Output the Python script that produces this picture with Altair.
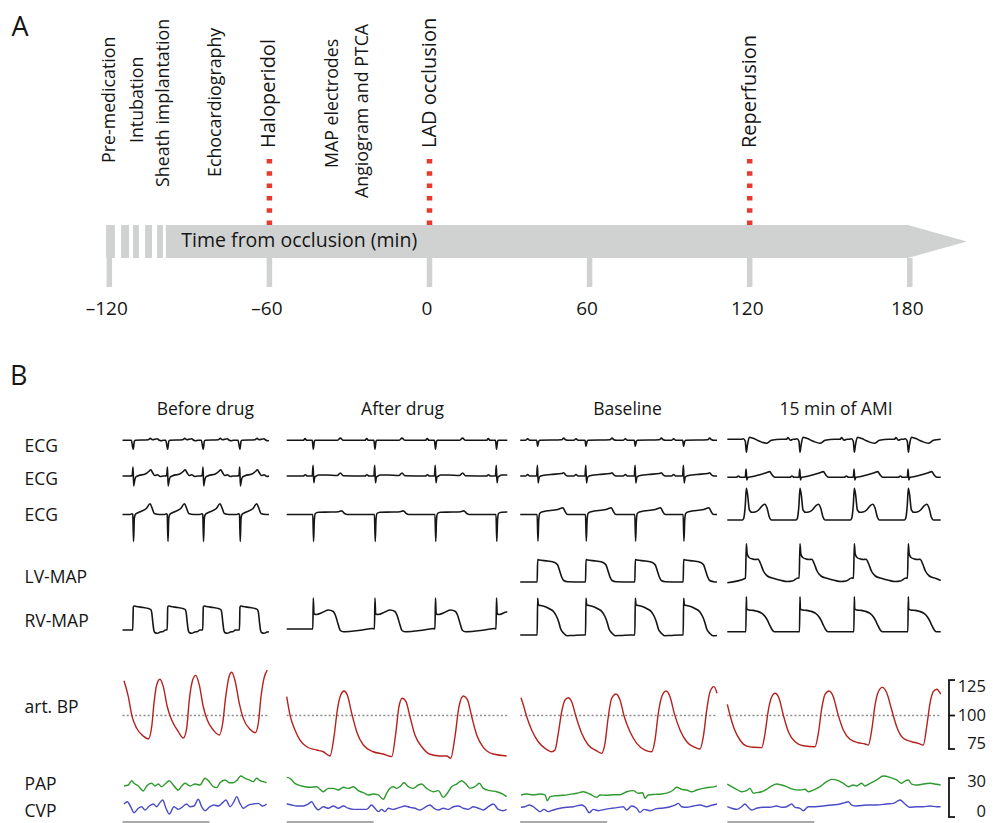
import altair as alt
import pandas as pd

# ----------------------------------------------------------------------------
# Panel A: experimental protocol, minutes relative to LAD occlusion
# ----------------------------------------------------------------------------
TICKS_MIN = [-120, -60, 0, 60, 120, 180]
EVENTS = ["Pre-medication", "Intubation", "Sheath implantation", "Echocardiography",
          "Haloperidol", "MAP electrodes", "Angiogram and PTCA", "LAD occlusion", "Reperfusion"]
EVENT_MIN = [-119.7, -109.2, -99.5, -80.2, -60, -36.2, -24.9, 0, 120]
EVENT_KEY = [0, 0, 0, 0, 1, 0, 0, 1, 1]
MARKER_MIN = [-60, 0, 120]
STRIPE_FROM = [-121.2, -115.6, -111.1, -106.6, -102.1]
STRIPE_TO = [-117.9, -112.6, -108.9, -104.0, -99.9]
AXIS_FROM, AXIS_TO, AXIS_TIP = -98.8, 179.3, 201.4

# ----------------------------------------------------------------------------
# Panel B: recordings (time in ms from start of each recording)
# ----------------------------------------------------------------------------
PANELS = ["Before drug", "After drug", "Baseline", "15 min of AMI"]
DUR_MS = {"Before drug": 1684, "After drug": 2537, "Baseline": 2263, "15 min of AMI": 2454}
QRS_MS = {
    "Before drug": [124, 520, 929, 1351],
    "After drug": [306, 1015, 1711, 2413],
    "Baseline": [201, 757, 1324, 1880],
    "15 min of AMI": [219, 836, 1461, 2082],
}
ROWS = ["ECG1", "ECG2", "ECG3", "LV-MAP", "RV-MAP"]

# beat shapes: time after QRS (ms), amplitude (a.u.)
TPL_DT = {
    ("Before drug", "ECG1"): [-23, 0, 12, 23, 173, 196, 219, 276, 299, 322, 345],
    ("Before drug", "ECG2"): [-35, -12, -3, 5, 15, 29, 58, 138, 178, 201, 224, 247, 276, 311, 345],
    ("Before drug", "ECG3"): [-35, -17, -6, 3, 12, 23, 58, 150, 192, 218, 241, 299],
    ("Before drug", "RV-MAP"): [-6, 0, 12, 35, 115, 173, 201, 213, 224, 236, 247, 276, 311, 345, 368],
    ("After drug", "ECG1"): [-115, -95, -75, -12, 0, 12, 23, 276, 311, 345],
    ("After drug", "ECG2"): [-115, -92, -69, -12, -3, 6, 17, 35, 58, 150, 276, 311, 345],
    ("After drug", "ECG3"): [-35, -6, 3, 12, 23, 58, 200, 290, 326, 360, 390],
    ("After drug", "RV-MAP"): [-6, 0, 8, 35, 115, 173, 230, 253, 288, 311, 345, 518, 633, 680],
    ("Baseline", "ECG1"): [-140, -115, -92, -12, 0, 12, 23, 276, 299, 322, 345],
    ("Baseline", "ECG2"): [-140, -115, -92, -12, -3, 6, 17, 35, 150, 276, 299, 322, 345],
    ("Baseline", "ECG3"): [-35, -6, 3, 12, 23, 58, 230, 291, 315, 337, 368],
    ("Baseline", "LV-MAP"): [-6, 0, 17, 115, 196, 230, 253, 276, 299, 345, 518],
    ("Baseline", "RV-MAP"): [-6, 0, 8, 35, 88, 140, 184, 215, 241, 265, 299, 337, 400, 518],
    ("15 min of AMI", "ECG1"): [-58, -35, -12, 0, 12, 35, 77, 153, 230, 288, 400, 460, 479, 506, 540],
    ("15 min of AMI", "ECG2"): [-115, -92, -69, -12, -3, 6, 17, 58, 150, 230, 268, 300, 330, 440],
    ("15 min of AMI", "ECG3"): [-46, -31, -12, 0, 15, 35, 65, 100, 141, 180, 211, 238, 264, 288],
    ("15 min of AMI", "LV-MAP"): [-10, 0, 10, 31, 69, 107, 135, 165, 196, 241, 318, 394, 472, 529, 594],
    ("15 min of AMI", "RV-MAP"): [-6, 0, 4, 27, 80, 123, 180, 218, 245, 268, 296, 322],
}
TPL_V = {
    ("Before drug", "ECG1"): [0, -9, -1, 0, 0.5, 2, 0.5, 1.5, 0, -0.5, 0],
    ("Before drug", "ECG2"): [0, 0.5, 9, -10, -5, -1, 0.3, 2, 4.5, 6.3, 3, 0.5, 1.2, -0.5, 0],
    ("Before drug", "ECG3"): [0, 0.7, 0, -27, -4, 0, 2, 6, 10.7, 6, 1, 0],
    ("Before drug", "RV-MAP"): [0, 23, 24, 23.5, 22.5, 21.5, 20.5, 17, 8, 0, -2.5, -3.3, -2, -1.5, 0],
    ("After drug", "ECG1"): [0, 1.7, 0, 0, -9, -1, 0, 0, 2.2, 0],
    ("After drug", "ECG2"): [0, 1.3, 0, 0, 10.7, -6.7, -1, 0, 1, 1, 0.5, 3, 0.3],
    ("After drug", "ECG3"): [0, 0, -27, -5, 1, 2.3, 2.5, 2.8, 3.6, 1, 0],
    ("After drug", "RV-MAP"): [0, 31, 15, 14.5, 17, 19, 17.5, 14, 4, -1.5, -2.7, -1.5, 0, 0.5],
    ("Baseline", "ECG1"): [0, 1.5, 0, 0, -6, -1, 0, 0.5, 2.2, 0.5, 0],
    ("Baseline", "ECG2"): [0, 1.5, 0, 0, 10.7, -7, -1.5, 0, 1.5, 2.5, 3.2, 1, 0],
    ("Baseline", "ECG3"): [0, 0, -26.7, -6, 1, 2.7, 5, 6.7, 3, 0.3, 0],
    ("Baseline", "LV-MAP"): [0, 22.5, 22, 21, 19.5, 17, 11, 5, 1.5, 0.3, 0],
    ("Baseline", "RV-MAP"): [0, 36.7, 30, 29.5, 28.3, 26, 23.3, 19, 13.3, 6, 1.7, -0.7, -0.5, 0],
    ("15 min of AMI", "ECG1"): [0, 0.5, -2, -13, -6, 2, 1, -2, -4, -1, 0, 0, 1.7, -1, 0],
    ("15 min of AMI", "ECG2"): [0, 1.3, 0, 0, 8.3, -2.7, 0, 0.5, 2.5, 4.5, 5.7, 2, 0, 0],
    ("15 min of AMI", "ECG3"): [0, 1.5, 15, 31.7, 25, 10, 7.7, 8, 10, 14, 15.7, 12, 3, 0],
    ("15 min of AMI", "LV-MAP"): [3.8, 38.3, 28, 24.5, 23, 22.5, 22.7, 18, 11, 6, 3.5, 1.7, 0.5, 1, 4],
    ("15 min of AMI", "RV-MAP"): [0, 35, 23, 21.7, 21.3, 20.5, 18.3, 15, 11, 6.7, 2, 0],
}
# values at the first and last sample of a recording (default 0)
EDGE_V = {
    ("Before drug", "RV-MAP"): (0, -1.7),
    ("After drug", "ECG2"): (0, 1),
    ("After drug", "ECG3"): (0, 2.5),
    ("After drug", "RV-MAP"): (0, 17),
    ("Baseline", "RV-MAP"): (0, -0.5),
    ("15 min of AMI", "LV-MAP"): (-0.7, 1.5),
}
# baseline level of a recording relative to its row
LEVEL = {
    ("Before drug", "RV-MAP"): 1, ("After drug", "RV-MAP"): 2,
    ("Baseline", "RV-MAP"): -4, ("15 min of AMI", "RV-MAP"): -0.7,
    ("15 min of AMI", "ECG1"): 1, ("15 min of AMI", "ECG2"): -1.3,
    ("15 min of AMI", "ECG3"): -5.5,
}

# arterial blood pressure (mmHg)
BP_T = {
    "Before drug": [17, 67, 106, 163, 239, 297, 336, 362, 393, 431, 469, 515, 566, 642, 699, 738, 768, 807, 842, 883,
                    929, 975, 1044, 1113, 1152, 1187, 1225, 1256, 1294, 1343, 1389, 1466, 1527, 1562, 1593, 1627, 1665],
    "After drug": [0, 38, 95, 153, 230, 345, 421, 498, 544, 582, 621, 659, 697, 748, 805, 881, 996, 1111, 1208, 1254,
                   1291, 1329, 1372, 1418, 1475, 1553, 1648, 1763, 1840, 1886, 1935, 1981, 2031, 2077, 2128, 2185,
                   2261, 2376, 2530],
    "Baseline": [9, 36, 75, 132, 208, 285, 362, 400, 438, 477, 515, 553, 592, 642, 707, 783, 880, 937, 975, 1013,
                 1052, 1102, 1148, 1197, 1263, 1340, 1435, 1512, 1550, 1588, 1627, 1677, 1723, 1772, 1838, 1915,
                 1991, 2068, 2106, 2145, 2183, 2229, 2263],
    "15 min of AMI": [0, 31, 77, 146, 223, 319, 396, 434, 472, 511, 549, 595, 644, 702, 779, 874, 1009, 1047, 1086,
                      1124, 1170, 1219, 1270, 1334, 1411, 1507, 1584, 1622, 1661, 1699, 1737, 1783, 1833, 1891, 1948,
                      2024, 2121, 2197, 2254, 2293, 2331, 2369, 2408, 2454],
}
BP_V = {
    "Before drug": [130.5, 116.5, 100.4, 88.8, 82, 79.4, 90.2, 110.7, 126.8, 131.8, 125.3, 107.7, 96, 85.8, 80.3,
                    88.8, 113.6, 131.1, 135.2, 126.8, 107.7, 96, 87.3, 82.9, 93.2, 116.5, 134, 137.9, 130.5, 110.7,
                    97.5, 87.9, 84.9, 93.2, 116.5, 132.6, 139.9],
    "After drug": [116.5, 100.4, 87.3, 78.5, 72.6, 69.7, 68.2, 64.5, 81.4, 104.8, 118, 121.5, 118, 101.9, 85.8, 74.1,
                   68.2, 66.2, 63.9, 84.4, 107.7, 115.1, 112.1, 98.9, 82.9, 72.6, 66, 64.5, 64.5, 62.5, 81.4, 107.7,
                   117.1, 114.2, 98.9, 82.9, 72.1, 66.2, 64.5],
    "Baseline": [115.6, 109.2, 98.9, 87.3, 77, 71.2, 68.2, 69.7, 84.4, 103.3, 113.6, 115.6, 112.1, 98.9, 84.4, 74.1,
                 68.9, 66.8, 75.6, 98.9, 115.1, 118.9, 113.6, 98.9, 85.8, 75.6, 69.7, 68.2, 78.5, 101.9, 116.5, 121.5,
                 116.5, 101.9, 87.3, 77, 72.6, 70.6, 81.4, 104.8, 120.9, 125.3, 119.5],
    "15 min of AMI": [109.8, 100.4, 88.8, 78.5, 73.2, 72.1, 71.8, 84.4, 104.8, 116.5, 119.5, 115.1, 100.4, 85.8, 77,
                      73.5, 72.6, 84.4, 106.3, 118.6, 121.5, 116.5, 101.9, 87.3, 79.1, 76.1, 75, 74.1, 87.3, 109.2,
                      120.9, 124.7, 120, 104.8, 90.2, 80, 77, 75.6, 74.1, 90.2, 110.7, 120.9, 123, 118.6],
}
# pulmonary artery pressure (mmHg)
PAP_T = {
    "Before drug": [17, 67, 106, 132, 182, 239, 278, 336, 374, 412, 451, 489, 538, 584, 642, 681, 719, 776, 834, 891,
                    949, 998, 1044, 1083, 1121, 1179, 1228, 1274, 1320, 1359, 1409, 1458, 1504, 1543, 1581, 1619, 1658],
    "After drug": [0, 38, 95, 172, 268, 345, 421, 479, 536, 594, 651, 709, 766, 824, 881, 939, 996, 1054, 1111, 1149,
                   1188, 1226, 1264, 1303, 1349, 1399, 1456, 1514, 1552, 1609, 1686, 1744, 1801, 1847, 1897, 1955,
                   2012, 2062, 2108, 2165, 2215, 2261, 2338, 2415, 2491, 2529],
    "Baseline": [9, 74, 151, 228, 285, 312, 343, 419, 496, 573, 649, 726, 802, 879, 918, 994, 1071, 1148, 1224, 1301,
                 1358, 1408, 1435, 1473, 1550, 1627, 1703, 1761, 1799, 1857, 1914, 1972, 2029, 2106, 2183, 2240, 2263],
    "15 min of AMI": [0, 50, 107, 165, 222, 261, 299, 337, 395, 452, 510, 567, 625, 682, 759, 836, 893, 931, 989,
                      1066, 1142, 1200, 1277, 1334, 1392, 1449, 1487, 1545, 1583, 1641, 1717, 1794, 1871, 1947, 2005,
                      2043, 2081, 2120, 2177, 2254, 2331, 2407, 2453],
}
PAP_V = {
    "Before drug": [26.7, 27.5, 31.1, 28.9, 26.7, 22.5, 26.7, 28.9, 26.7, 28.3, 26.1, 28.3, 31.1, 27.5, 23.3, 26.7,
                    28.9, 26.7, 28.3, 27.5, 33.1, 30.3, 26.1, 25.3, 29.4, 31.7, 29.4, 29.4, 31.7, 35, 33.1, 31.7,
                    30.3, 33.1, 31.1, 30.3, 29.4],
    "After drug": [33.9, 33.1, 28.9, 26.7, 25.6, 26.1, 21.9, 24.7, 24.7, 23.3, 25.6, 24.7, 26.1, 22.8, 21.1, 19.2,
                   20, 19.2, 15.6, 20.6, 24.7, 26.1, 24.7, 26.1, 29.4, 26.1, 24.7, 27.5, 28.3, 24.7, 21.9, 22.8,
                   17.2, 20.6, 26.1, 28.3, 31.1, 28.3, 24.7, 26.1, 28.9, 24.7, 22.8, 21.9, 19.7, 17.8],
    "Baseline": [19.2, 20, 19.2, 20, 19.2, 14.4, 17.8, 18.6, 18.9, 19.7, 20.6, 21.9, 20, 17.2, 19.2, 18.9, 19.4, 19.4,
                 21.9, 22.8, 20.6, 21.1, 16.4, 19.2, 19.7, 20, 21.1, 23.3, 25.6, 23.9, 23.3, 21.9, 23.3, 24.7, 25.6,
                 26.1, 26.7],
    "15 min of AMI": [28.3, 26.1, 23.9, 21.9, 22.8, 24.7, 20.6, 21.1, 21.9, 23.9, 26.7, 28.3, 27.5, 26.1, 23.9, 23.3,
                      23.9, 21.9, 23.3, 26.1, 30.3, 32.2, 31.1, 28.9, 26.1, 27.5, 26.7, 28.9, 26.7, 28.9, 31.7, 35,
                      33.9, 31.7, 28.9, 30.8, 31.7, 28.3, 27.5, 28.3, 28.9, 28.1, 27.5],
}
# central venous pressure (mmHg)
CVP_T = {
    "Before drug": [17, 56, 94, 132, 182, 220, 259, 308, 355, 393, 431, 462, 500, 539, 592, 642, 692, 738, 776, 822,
                    872, 910, 949, 1006, 1052, 1102, 1152, 1190, 1236, 1282, 1313, 1351, 1390, 1447, 1504, 1562, 1612,
                    1658],
    "After drug": [0, 57, 115, 191, 249, 287, 325, 364, 421, 479, 536, 594, 651, 709, 766, 843, 919, 977, 1015, 1054,
                   1092, 1130, 1169, 1226, 1303, 1360, 1418, 1475, 1533, 1590, 1648, 1694, 1744, 1801, 1859, 1916,
                   1974, 2031, 2089, 2146, 2204, 2261, 2319, 2376, 2434, 2491, 2529],
    "Baseline": [9, 55, 105, 151, 189, 228, 274, 323, 381, 458, 534, 611, 707, 745, 795, 841, 899, 975, 1052, 1128,
                 1186, 1224, 1282, 1339, 1378, 1424, 1493, 1569, 1646, 1723, 1780, 1818, 1857, 1914, 1991, 2068, 2144,
                 2202, 2263],
    "15 min of AMI": [0, 50, 107, 165, 203, 241, 280, 337, 414, 491, 567, 625, 682, 740, 778, 836, 874, 931, 1008,
                      1104, 1200, 1296, 1353, 1392, 1430, 1487, 1602, 1717, 1832, 1909, 1986, 2043, 2100, 2177, 2254,
                      2331, 2407, 2453],
}
CVP_V = {
    "Before drug": [11.7, 13.6, 9.4, 4.4, 8.1, 9.4, 6.7, 10, 11.7, 9.4, 12.8, 15, 8.1, 3.3, 9.4, 7.2, 9.4, 11.7, 9.4,
                    10, 15.6, 9.4, 6.1, 9.4, 10.8, 10, 12.8, 15, 9.4, 13.6, 17.8, 12.2, 8.1, 10.8, 11.7, 12.2, 10,
                    11.7],
    "After drug": [11.7, 10.8, 10, 10, 11.7, 13.6, 9.4, 6.7, 9.4, 8.1, 10, 8.1, 10, 8.1, 7.2, 7.2, 7.2, 10.8, 8.1, 5.3,
                   7.2, 5.3, 8.1, 7.2, 8.9, 10, 8.9, 8.1, 6.7, 8.9, 10.8, 8.1, 6.7, 8.1, 7.2, 9.4, 10, 8.1, 7.2, 9.4,
                   8.1, 6.7, 9.4, 11.7, 7.2, 6.1, 7.2],
    "Baseline": [8.9, 9.4, 10.8, 9.4, 7.2, 5.3, 7.2, 5.3, 6.7, 8.1, 8.9, 9.4, 10.8, 9.4, 4.4, 7.2, 6.1, 7.2, 8.1, 8.9,
                 9.4, 6.7, 10, 8.1, 4.7, 7.2, 6.1, 7.8, 8.3, 9.4, 10.8, 12.2, 9.4, 8.9, 10, 10.8, 9.4, 10.6, 11.7],
    "15 min of AMI": [9.4, 8.1, 7.2, 9.4, 11.7, 8.9, 6.7, 8.1, 8.9, 8.9, 10, 8.9, 9.4, 11.7, 8.9, 8.1, 6.1, 9.4, 9.4,
                      10, 10.8, 11.7, 12.8, 13.6, 10.8, 10, 10.8, 10.8, 11.7, 12.2, 15, 11.7, 8.9, 9.4, 9.4, 10, 9.4,
                      9.4],
}
BP_TICKS = [125, 100, 75]
P_TICKS = [30, 0]
SCALEBAR_MS = 1000

# ----------------------------------------------------------------------------
# Layout (pixels inside the chart, origin top-left) and styles
# ----------------------------------------------------------------------------
W, H = 979, 815
FONT = "Open Sans"
INK = "#151515"
GRAY = "#d0d2d2"
RED = "#e63b2e"
PX_PER_MIN, MIN0_PX = 2.6683, 421.5
MS_PER_PX = 11.5
PANEL_LEFT_PX = {"Before drug": 114.5, "After drug": 278.7, "Baseline": 512.2, "15 min of AMI": 719.3}
TITLE_X_PX = {"Before drug": 197.3, "After drug": 394.5, "Baseline": 619.5, "15 min of AMI": 828.0}
ROW_BASE_PX = {"ECG1": 432.3, "ECG2": 468.0, "ECG3": 506.5, "LV-MAP": 574.0, "RV-MAP": 623.0}
BP100_PX, BP_GAIN = 707.5, 1.14
P0_PX, P_GAIN = 810.0, 1.2


def lin(domain, reverse=False):
    return alt.Scale(domain=domain, nice=False, zero=False, reverse=reverse)


x_min = lin([-MIN0_PX / PX_PER_MIN, (W - MIN0_PX) / PX_PER_MIN])
x_ms = lin([0, W * MS_PER_PX])
x_px = lin([0, W])
y_px = lin([0, H], reverse=True)


def y_unit(base_px, gain, ref=0.0):
    return lin([ref - (H - base_px) / gain, ref + base_px / gain])


y_bp = y_unit(BP100_PX, BP_GAIN, 100)
y_p = y_unit(P0_PX, P_GAIN, 0)
offset_ms = {p: PANEL_LEFT_PX[p] * MS_PER_PX for p in PANELS}

layers = []

# ---------------- Panel A ----------------
tX = lambda f: alt.X(f, scale=x_min, axis=None)

layers.append(alt.Chart(pd.DataFrame({"a": STRIPE_FROM, "b": STRIPE_TO})).mark_rect(color=GRAY).encode(
    x=tX("a:Q"), x2="b:Q", y=alt.value(217), y2=alt.value(250)))

arrow = pd.DataFrame({"t": [AXIS_FROM, AXIS_TO, AXIS_TIP], "top": [217, 217, 233.5], "bot": [250, 250, 233.5]})
layers.append(alt.Chart(arrow).mark_area(color=GRAY, opacity=1).encode(
    x=tX("t:Q"), y=alt.Y("top:Q", scale=y_px, axis=None), y2="bot:Q"))

ticks = pd.DataFrame({"t": TICKS_MIN,
                      "lab": [("\u2013%d\u2002" % abs(v)) if v < 0 else str(v) for v in TICKS_MIN]})
layers.append(alt.Chart(ticks).mark_rule(color=GRAY, strokeWidth=5.5).encode(
    x=tX("t:Q"), y=alt.value(250), y2=alt.value(279)))
layers.append(alt.Chart(ticks).mark_text(font=FONT, fontSize=19, baseline="alphabetic", color=INK, dx=-2.5).encode(
    x=tX("t:Q"), y=alt.value(307), text="lab:N"))

layers.append(alt.Chart(pd.DataFrame({"t": MARKER_MIN})).mark_rule(
    color=RED, strokeWidth=5.5, strokeDash=[4.5, 7.8]).encode(x=tX("t:Q"), y=alt.value(151), y2=alt.value(217)))

ev = pd.DataFrame({"name": EVENTS, "t": EVENT_MIN, "key": EVENT_KEY,
                   "bottom": [155, 135, 179, 169, 140, 160, 190, 140, 140]})
for key, fs in [(0, 17.8), (1, 20)]:
    layers.append(alt.Chart(ev[ev.key == key]).mark_text(
        font=FONT, fontSize=fs, angle=270, align="left", baseline="middle", color=INK).encode(
        x=tX("t:Q"), y=alt.Y("bottom:Q", scale=y_px, axis=None), text="name:N"))

layers.append(alt.Chart(pd.DataFrame({"t": [-93.0], "s": ["Time from occlusion (min)"]})).mark_text(
    font=FONT, fontSize=19.5, align="left", baseline="alphabetic", color=INK).encode(
    x=tX("t:Q"), y=alt.value(238.5), text="s:N"))

# ---------------- layout texts ----------------
left_txt = pd.DataFrame({
    "s": ["A", "B", "ECG", "ECG", "ECG", "LV-MAP", "RV-MAP", "art. BP", "PAP", "CVP"],
    "x": [3.5, 2.0] + [16.5] * 8,
    "y": [28, 377, 443.7, 477.0, 512.7, 574.7, 618.7, 705.3, 782.0, 809.3],
    "fs": [27, 27] + [17.5] * 8,
})
layers.append(alt.Chart(left_txt).mark_text(font=FONT, align="left", baseline="alphabetic", color=INK).encode(
    x=alt.X("x:Q", scale=x_px, axis=None), y=alt.Y("y:Q", scale=y_px, axis=None),
    size=alt.Size("fs:Q", scale=None, legend=None), text="s:N"))

titles = pd.DataFrame({"s": PANELS, "x": [TITLE_X_PX[p] for p in PANELS]})
layers.append(alt.Chart(titles).mark_text(font=FONT, fontSize=17.5, align="center", baseline="alphabetic",
                                          color=INK).encode(
    x=alt.X("x:Q", scale=x_px, axis=None), y=alt.value(407), text="s:N"))

# ---------------- Panel B traces ----------------
def beat_trace(panel, row):
    dts, vs = TPL_DT[(panel, row)], TPL_V[(panel, row)]
    dur = DUR_MS[panel]
    v0, v1 = EDGE_V.get((panel, row), (0, 0))
    lvl = LEVEL.get((panel, row), 0)
    pts = [(0, v0)]
    for q in QRS_MS[panel]:
        for dt, v in zip(dts, vs):
            if 0 < q + dt < dur:
                pts.append((q + dt, v))
    pts.append((dur, v1))
    return [{"panel": panel, "x": offset_ms[panel] + t, "v": v + lvl} for t, v in pts]


msX = lambda f: alt.X(f, scale=x_ms, axis=None)

for row in ROWS:
    recs = []
    for p in PANELS:
        if (p, row) in TPL_DT:
            recs += beat_trace(p, row)
    layers.append(alt.Chart(pd.DataFrame(recs)).mark_line(
        color=INK, strokeWidth=1.6, interpolate="monotone", strokeJoin="round").encode(
        x=msX("x:Q"), y=alt.Y("v:Q", scale=y_unit(ROW_BASE_PX[row], 1.0), axis=None), detail="panel:N"))


def series(T, V):
    recs = []
    for p in PANELS:
        recs += [{"panel": p, "x": offset_ms[p] + t, "v": v} for t, v in zip(T[p], V[p])]
    return pd.DataFrame(recs)


# 100 mmHg reference
ref = pd.DataFrame({"x0": [offset_ms[p] for p in PANELS], "x1": [offset_ms[p] + DUR_MS[p] for p in PANELS],
                    "v": [100] * 4})
layers.append(alt.Chart(ref).mark_rule(color="#8c8c8c", strokeWidth=1.3, strokeDash=[2, 2.2]).encode(
    x=msX("x0:Q"), x2="x1:Q", y=alt.Y("v:Q", scale=y_bp, axis=None)))

layers.append(alt.Chart(series(BP_T, BP_V)).mark_line(color="#b3221c", strokeWidth=1.4, interpolate="monotone").encode(
    x=msX("x:Q"), y=alt.Y("v:Q", scale=y_bp, axis=None), detail="panel:N"))
layers.append(alt.Chart(series(PAP_T, PAP_V)).mark_line(color="#2e9a2e", strokeWidth=1.4, interpolate="monotone").encode(
    x=msX("x:Q"), y=alt.Y("v:Q", scale=y_p, axis=None), detail="panel:N"))
layers.append(alt.Chart(series(CVP_T, CVP_V)).mark_line(color="#4b4bc6", strokeWidth=1.4, interpolate="monotone").encode(
    x=msX("x:Q"), y=alt.Y("v:Q", scale=y_p, axis=None), detail="panel:N"))

# 1 s time bars
sb = pd.DataFrame({"x0": [offset_ms[p] for p in PANELS], "x1": [offset_ms[p] + SCALEBAR_MS for p in PANELS]})
layers.append(alt.Chart(sb).mark_rule(color="#a9a9a9", strokeWidth=2).encode(
    x=msX("x0:Q"), x2="x1:Q", y=alt.value(814)))

# pressure brackets
def bracket(lo, hi, mid, scale, labels, dys):
    out = []
    out.append(alt.Chart(pd.DataFrame({"lo": [lo], "hi": [hi]})).mark_rule(color=INK, strokeWidth=1.8).encode(
        x=alt.value(941), y=alt.Y("hi:Q", scale=scale, axis=None), y2="lo:Q"))
    out.append(alt.Chart(pd.DataFrame({"v": [hi, lo] + mid})).mark_rule(color=INK, strokeWidth=1.8).encode(
        x=alt.value(940.1), x2=alt.value(947), y=alt.Y("v:Q", scale=scale, axis=None)))
    for v, dy in zip(labels, dys):
        out.append(alt.Chart(pd.DataFrame({"v": [v], "s": [str(v)]})).mark_text(
            font=FONT, fontSize=16.5, align="right", baseline="middle", color=INK, dy=dy).encode(
            x=alt.value(978), y=alt.Y("v:Q", scale=scale, axis=None), text="s:N"))
    return out


layers += bracket(70.6, 131.1, [100], y_bp, BP_TICKS, [0, 0, 0])
layers += bracket(0.8, 33.3, [], y_p, P_TICKS, [0, -6])

chart = alt.layer(*layers).resolve_scale(x="independent", y="independent").properties(
    width=W, height=H, padding=0, autosize=alt.AutoSizeParams(type="none")
).configure_view(stroke=None)

chart.save("out.html", embed_options={"renderer": "svg", "actions": False})
